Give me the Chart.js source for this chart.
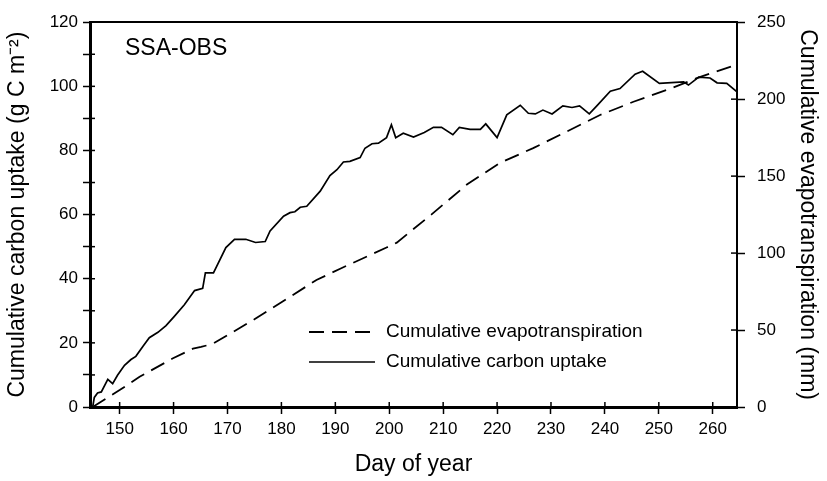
<!DOCTYPE html>
<html>
<head>
<meta charset="UTF-8"/>
<title>SSA-OBS cumulative carbon uptake and evapotranspiration</title>
<script src="https://cdn.jsdelivr.net/npm/chart.js@4.4.3/dist/chart.umd.min.js"></script>
<style>
  *{box-sizing:border-box;margin:0;padding:0}
  body{background:#fff;width:827px;height:481px;overflow:hidden}
  #wrap{position:relative;width:827px;height:481px}
</style>
</head>
<body>
<div id="wrap"><canvas id="chart" width="827" height="481"></canvas></div>
<script>
// ─── Data ─────────────────────────────────────────────────────────────────────
const carbonDays = [145.0, 145.3, 145.9, 146.6, 147.8, 148.7, 149.6, 150.9, 152.1, 153.0,
  154.3, 155.5, 157.1, 158.6, 160.1, 162.0, 163.9, 165.4, 165.9, 167.4,
  169.7, 171.3, 173.4, 175.2, 177.0, 177.9, 180.4, 181.6, 182.5, 183.5,
  184.7, 187.2, 189.0, 190.3, 191.5, 192.7, 194.6, 195.5, 196.8, 198.0,
  199.5, 200.4, 201.2, 202.6, 204.5, 206.5, 208.2, 209.7, 211.8, 213.0,
  215.0, 216.9, 217.9, 220.0, 221.8, 224.3, 225.8, 227.1, 228.5, 230.2,
  232.2, 233.9, 235.3, 237.1, 238.5, 241.0, 242.8, 245.6, 247.0, 250.1,
  254.6, 255.5, 257.4, 259.5, 260.8, 262.6, 264.5];
const carbonUptake = [0, 3.0, 4.4, 4.7, 8.6, 7.3, 9.9, 13.0, 14.8, 15.8,
  18.9, 21.6, 23.3, 25.4, 28.2, 31.9, 36.3, 37.0, 41.8, 41.8,
  49.7, 52.3, 52.3, 51.3, 51.6, 54.9, 59.5, 60.6, 60.9, 62.3,
  62.6, 67.3, 72.2, 74.0, 76.4, 76.6, 77.8, 80.7, 82.1, 82.3,
  84.0, 88.0, 84.0, 85.4, 84.2, 85.6, 87.2, 87.2, 84.9, 87.2,
  86.6, 86.6, 88.3, 84.0, 91.1, 94.1, 91.6, 91.4, 92.6, 91.4,
  93.9, 93.4, 93.9, 91.4, 93.9, 98.5, 99.3, 103.8, 104.7, 100.9,
  101.4, 100.4, 102.9, 102.6, 101.1, 100.9, 98.3];

const etDays = [145.0, 150.0, 153.7, 159.8, 163.6, 165.1, 167.3, 175.0, 186.5, 191.0,
  199.5, 201.4, 207.8, 214.4, 220.5, 226.7, 232.9, 239.1, 245.3, 251.5,
  257.7, 264.5];
const etCum = [0, 11, 19.6, 31.5, 37.9, 39.0, 41.1, 57, 82.5, 90,
  103.6, 106.8, 125, 144.5, 158.5, 168.2, 178.9, 189.7, 198.3, 206,
  214.5, 222.4];

const xTicks = [150, 160, 170, 180, 190, 200, 210, 220, 230, 240, 250, 260];

const FONT = "'Liberation Sans', Arial, sans-serif";

// ─── Plugins: inward tick stubs, panel label and legend ───────────────────────
const innerTicks = {
  id: 'innerTicks',
  afterDraw(chart) {
    const ctx = chart.ctx, a = chart.chartArea;
    ctx.save();
    ctx.strokeStyle = '#000';
    ctx.lineWidth = 1.5;
    const sx = chart.scales.x;
    sx.ticks.forEach(t => {
      const px = sx.getPixelForValue(t.value);
      ctx.beginPath(); ctx.moveTo(px, a.bottom); ctx.lineTo(px, a.bottom - 5); ctx.stroke();
    });
    const sy = chart.scales.y;
    sy.ticks.forEach(t => {
      const py = sy.getPixelForValue(t.value);
      ctx.beginPath(); ctx.moveTo(a.left, py); ctx.lineTo(a.left + 5, py); ctx.stroke();
    });
    const sy2 = chart.scales.y2;
    sy2.ticks.forEach(t => {
      const py = sy2.getPixelForValue(t.value);
      ctx.beginPath(); ctx.moveTo(a.right, py); ctx.lineTo(a.right - 6, py); ctx.stroke();
    });
    ctx.restore();
  }
};

const panelText = {
  id: 'panelText',
  afterDraw(chart) {
    const ctx = chart.ctx;
    ctx.save();
    ctx.fillStyle = '#000';
    ctx.font = `23px ${FONT}`;
    ctx.textBaseline = 'alphabetic';
    ctx.fillText('SSA-OBS', 125, 55);

    // legend
    const rows = [
      { ds: chart.data.datasets[1], y: 332 },
      { ds: chart.data.datasets[0], y: 362 },
    ];
    ctx.font = `19px ${FONT}`;
    ctx.textBaseline = 'middle';
    rows.forEach(r => {
      ctx.beginPath();
      ctx.setLineDash(r.ds.borderDash || []);
      ctx.lineWidth = r.ds.borderWidth;
      ctx.strokeStyle = r.ds.borderColor;
      ctx.moveTo(309, r.y); ctx.lineTo(375, r.y);
      ctx.stroke();
      ctx.setLineDash([]);
      ctx.fillText(r.ds.label, 386, r.y);
    });
    ctx.restore();
  }
};

// ─── Chart ────────────────────────────────────────────────────────────────────
const tickFont = { family: FONT, size: 17 };
const titleFont = { family: FONT, size: 23 };

new Chart(document.getElementById('chart'), {
  type: 'line',
  data: {
    datasets: [
      {
        label: 'Cumulative carbon uptake',
        data: carbonDays.map((d, i) => ({ x: d, y: carbonUptake[i] })),
        yAxisID: 'y',
        borderColor: '#000', borderWidth: 1.7,
        pointRadius: 0, tension: 0, fill: false,
      },
      {
        label: 'Cumulative evapotranspiration',
        data: etDays.map((d, i) => ({ x: d, y: etCum[i] })),
        yAxisID: 'y2',
        borderColor: '#000', borderWidth: 1.8, borderDash: [15, 8],
        pointRadius: 0, tension: 0, fill: false,
      },
    ]
  },
  options: {
    responsive: false,
    animation: false,
    layout: { padding: 0 },
    plugins: { legend: { display: false }, tooltip: { enabled: false } },
    scales: {
      x: {
        type: 'linear', position: 'bottom', min: 144.5, max: 264.5,
        afterBuildTicks: s => { s.ticks = xTicks.map(v => ({ value: v })); },
        afterFit: s => { s.height = 74; },
        grid: { drawOnChartArea: false, drawTicks: true, tickLength: 7, tickWidth: 1.5, tickColor: '#000' },
        border: { display: true, width: 3, color: '#000' },
        ticks: { font: tickFont, color: '#000', padding: 5, maxRotation: 0, autoSkip: false },
        title: { display: true, text: 'Day of year', font: titleFont, color: '#000', padding: { bottom: 3 } },
      },
      x2: {
        type: 'linear', position: 'top', min: 144.5, max: 264.5,
        afterFit: s => { s.height = 20; },
        grid: { drawOnChartArea: false, drawTicks: false },
        border: { display: true, width: 2, color: '#000' },
        ticks: { display: false },
      },
      y: {
        type: 'linear', position: 'left', min: 0, max: 120,
        afterFit: s => { s.width = 90; },
        grid: { drawOnChartArea: false, drawTicks: true, tickLength: 7, tickWidth: 1.5, tickColor: '#000' },
        border: { display: true, width: 3, color: '#000' },
        ticks: { stepSize: 10, font: tickFont, color: '#000', padding: 5,
                 callback: v => (v % 20 === 0 ? v : '') },
        title: { display: true, text: 'Cumulative carbon uptake (g C m\u207B\u00B2)', font: titleFont, color: '#000', padding: { top: 4 } },
      },
      y2: {
        type: 'linear', position: 'right', min: 0, max: 250,
        afterFit: s => { s.width = 90; },
        grid: { drawOnChartArea: false, drawTicks: true, tickLength: 8, tickWidth: 1.5, tickColor: '#000' },
        border: { display: true, width: 2, color: '#000' },
        ticks: { stepSize: 50, font: tickFont, color: '#000', padding: 12 },
        title: { display: true, text: 'Cumulative evapotranspiration (mm)', font: titleFont, color: '#000', padding: { top: 6 } },
      },
    }
  },
  plugins: [innerTicks, panelText]
});
</script>
</body>
</html>
